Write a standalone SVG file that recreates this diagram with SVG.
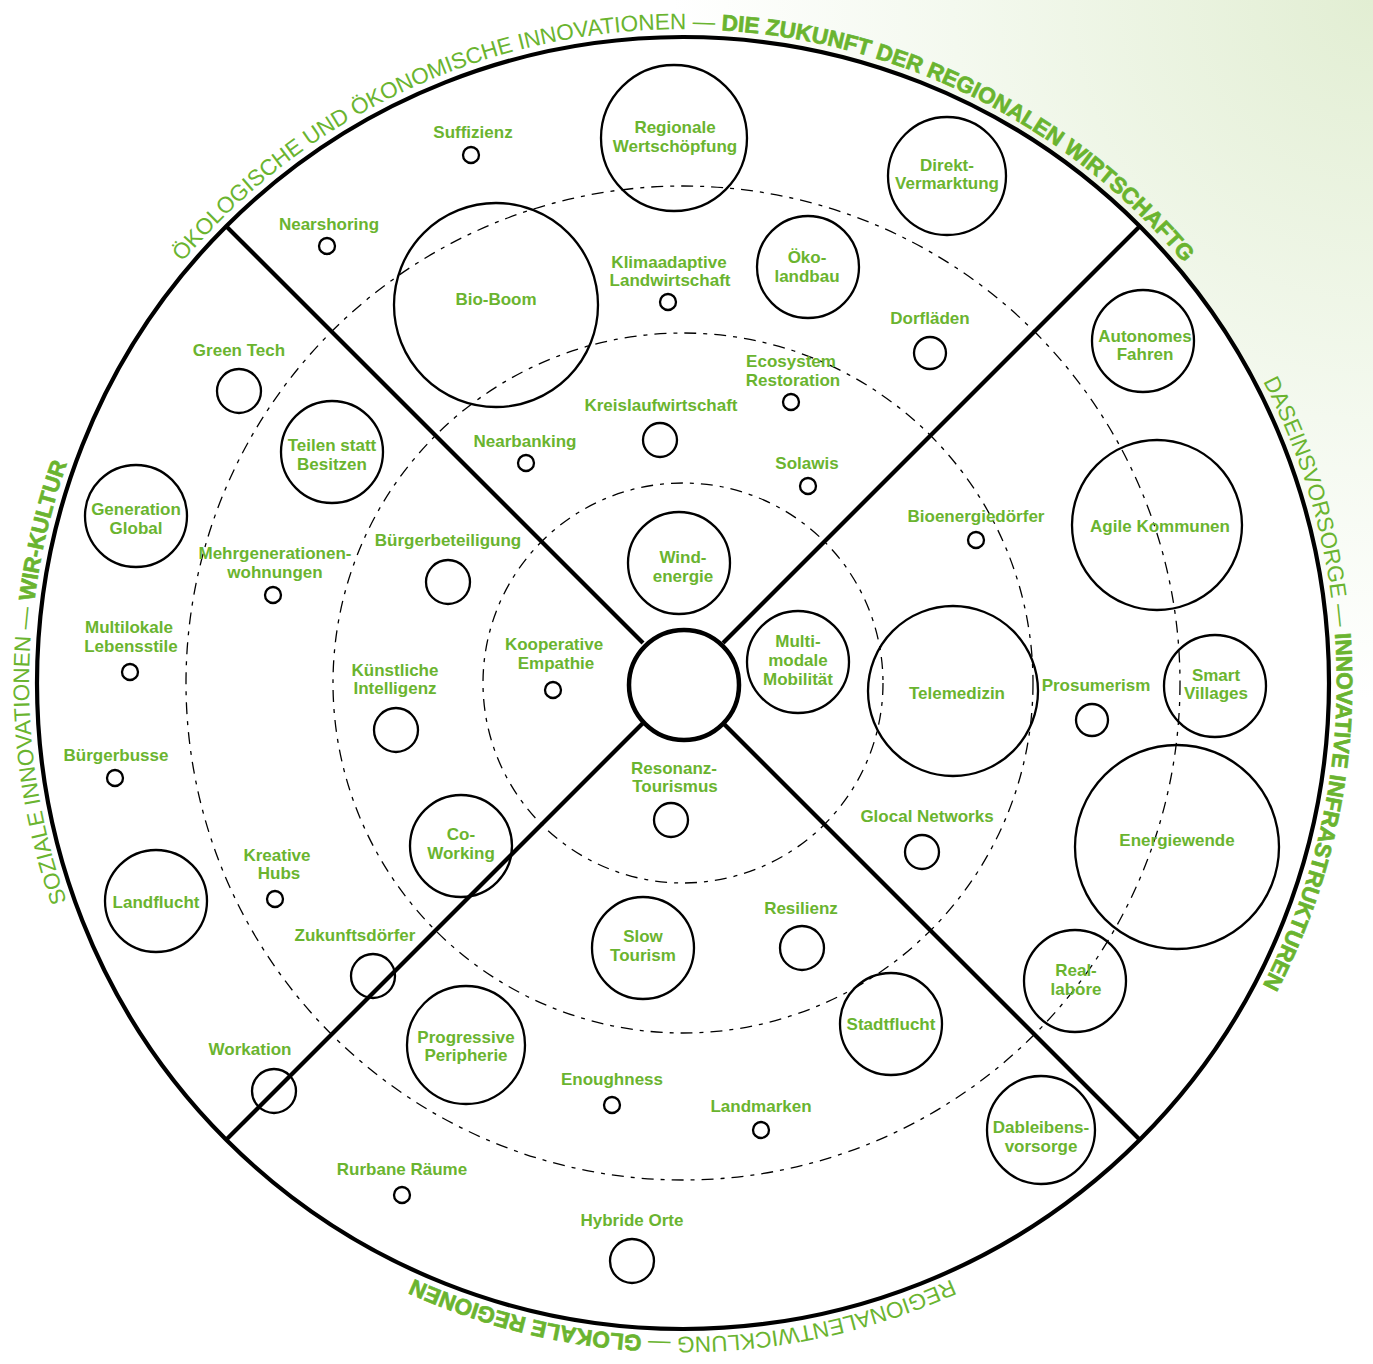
<svg xmlns="http://www.w3.org/2000/svg" xmlns:xlink="http://www.w3.org/1999/xlink" width="1373" height="1364" viewBox="0 0 1373 1364">
<defs>
<radialGradient id="bgTR" cx="1373" cy="0" r="700" gradientUnits="userSpaceOnUse">
<stop offset="0" stop-color="#e2eed3"/>
<stop offset="0.6" stop-color="#f4f9ef"/>
<stop offset="1" stop-color="#ffffff"/>
</radialGradient>
<path id="ring" d="M 1145.45 1145.45 A 654 654 0 0 1 220.55 220.55 A 654 654 0 0 1 1145.45 1145.45"/>
<style>
.lbl{font-family:"Liberation Sans",Arial,sans-serif;font-size:17px;font-weight:bold;fill:#6ab42f;text-anchor:middle}
.ttl{font-family:"Liberation Sans",Arial,sans-serif;font-size:22.5px;fill:#6ab42f;text-anchor:middle}
.b{font-weight:bold;stroke:#6ab42f;stroke-width:0.7}
.n{fill:none;stroke:#000;stroke-width:2.3}
.dash{fill:none;stroke:#000;stroke-width:1.3;stroke-dasharray:12 7 4 7}
.axis{stroke:#000;stroke-width:4.2;stroke-linecap:butt}
</style>
</defs>
<rect width="1373" height="1364" fill="url(#bgTR)"/>
<circle cx="683" cy="683" r="646" fill="#ffffff"/>

<g id="rings">
<circle class="dash" cx="683" cy="683" r="497"/>
<circle class="dash" cx="683" cy="683" r="350"/>
<circle class="dash" cx="683" cy="683" r="200"/>
<circle cx="683" cy="683" r="646" fill="none" stroke="#000" stroke-width="4.2"/>
</g>

<g id="axes">
<line class="axis" x1="226.2" y1="226.2" x2="643" y2="643"/>
<line class="axis" x1="1139.8" y1="226.2" x2="723" y2="643"/>
<line class="axis" x1="226.2" y1="1139.8" x2="643" y2="723"/>
<line class="axis" x1="1139.8" y1="1139.8" x2="723" y2="723"/>
</g>

<g id="titles">
<text class="ttl"><textPath xlink:href="#ring" href="#ring" startOffset="2568">ÖKOLOGISCHE UND ÖKONOMISCHE INNOVATIONEN — <tspan class="b">DIE ZUKUNFT DER REGIONALEN WIRTSCHAFTG</tspan></textPath></text>
<text class="ttl"><textPath xlink:href="#ring" href="#ring" startOffset="1541">SOZIALE INNOVATIONEN — <tspan class="b">WIR-KULTUR</tspan></textPath></text>
<text class="ttl"><textPath xlink:href="#ring" href="#ring" startOffset="3595">DASEINSVORSORGE — <tspan class="b">INNOVATIVE INFRASTRUKTUREN</tspan></textPath></text>
<text class="ttl"><textPath xlink:href="#ring" href="#ring" startOffset="514">REGIONALENTWICKLUNG — <tspan class="b">GLOKALE REGIONEN</tspan></textPath></text>
</g>

<g id="center"><circle cx="684" cy="685" r="55" fill="#fff" stroke="#000" stroke-width="4.5"/></g>

<g id="nodes">
<g id="n-regionale-wertschoepfung"><circle class="n" cx="674" cy="138" r="73"/><text class="lbl" x="675" y="133">Regionale<tspan x="675" y="152">Wertschöpfung</tspan></text></g>
<g id="n-direkt-vermarktung"><circle class="n" cx="947" cy="176" r="59"/><text class="lbl" x="947" y="171">Direkt-<tspan x="947" y="189">Vermarktung</tspan></text></g>
<g id="n-bio-boom"><circle class="n" cx="496" cy="305" r="102"/><text class="lbl" x="496" y="305">Bio-Boom</text></g>
<g id="n-oeko-landbau"><circle class="n" cx="808" cy="267" r="51"/><text class="lbl" x="807" y="263">Öko-<tspan x="807" y="282">landbau</tspan></text></g>
<g id="n-autonomes-fahren"><circle class="n" cx="1143" cy="341" r="51"/><text class="lbl" x="1145" y="342">Autonomes<tspan x="1145" y="360">Fahren</tspan></text></g>
<g id="n-teilen-statt-besitzen"><circle class="n" cx="332" cy="452" r="51"/><text class="lbl" x="332" y="451">Teilen statt<tspan x="332" y="470">Besitzen</tspan></text></g>
<g id="n-generation-global"><circle class="n" cx="136" cy="516" r="51"/><text class="lbl" x="136" y="515">Generation<tspan x="136" y="534">Global</tspan></text></g>
<g id="n-agile-kommunen"><circle class="n" cx="1157" cy="525" r="85"/><text class="lbl" x="1160" y="532">Agile Kommunen</text></g>
<g id="n-windenergie"><circle class="n" cx="679" cy="563" r="51"/><text class="lbl" x="683" y="563">Wind-<tspan x="683" y="582">energie</tspan></text></g>
<g id="n-multimodale-mobilitaet"><circle class="n" cx="798" cy="662" r="51"/><text class="lbl" x="798" y="647">Multi-<tspan x="798" y="666">modale</tspan><tspan x="798" y="685">Mobilität</tspan></text></g>
<g id="n-telemedizin"><circle class="n" cx="953" cy="691" r="85"/><text class="lbl" x="957" y="699">Telemedizin</text></g>
<g id="n-smart-villages"><circle class="n" cx="1215" cy="686" r="51"/><text class="lbl" x="1216" y="681">Smart<tspan x="1216" y="699">Villages</tspan></text></g>
<g id="n-energiewende"><circle class="n" cx="1177" cy="847" r="102"/><text class="lbl" x="1177" y="846">Energiewende</text></g>
<g id="n-co-working"><circle class="n" cx="461" cy="846" r="51"/><text class="lbl" x="461" y="840">Co-<tspan x="461" y="859">Working</tspan></text></g>
<g id="n-landflucht"><circle class="n" cx="156" cy="901" r="51"/><text class="lbl" x="156" y="908">Landflucht</text></g>
<g id="n-slow-tourism"><circle class="n" cx="643" cy="948" r="51"/><text class="lbl" x="643" y="942">Slow<tspan x="643" y="961">Tourism</tspan></text></g>
<g id="n-reallabore"><circle class="n" cx="1075" cy="981" r="51"/><text class="lbl" x="1076" y="976">Real-<tspan x="1076" y="995">labore</tspan></text></g>
<g id="n-stadtflucht"><circle class="n" cx="891" cy="1024" r="51"/><text class="lbl" x="891" y="1030">Stadtflucht</text></g>
<g id="n-progressive-peripherie"><circle class="n" cx="466" cy="1045" r="59"/><text class="lbl" x="466" y="1043">Progressive<tspan x="466" y="1061">Peripherie</tspan></text></g>
<g id="n-dableibensvorsorge"><circle class="n" cx="1041" cy="1130" r="54"/><text class="lbl" x="1041" y="1133">Dableibens-<tspan x="1041" y="1152">vorsorge</tspan></text></g>

<g id="n-suffizienz"><circle class="n" cx="471" cy="155" r="8"/><text class="lbl" x="473" y="138">Suffizienz</text></g>
<g id="n-nearshoring"><circle class="n" cx="327" cy="246" r="8"/><text class="lbl" x="329" y="230">Nearshoring</text></g>
<g id="n-klimaadaptive-landwirtschaft"><circle class="n" cx="668" cy="302" r="8"/><text class="lbl" x="669" y="268">Klimaadaptive<tspan x="670" y="286">Landwirtschaft</tspan></text></g>
<g id="n-dorflaeden"><circle class="n" cx="930" cy="353" r="16"/><text class="lbl" x="930" y="324">Dorfläden</text></g>
<g id="n-green-tech"><circle class="n" cx="239" cy="391" r="22"/><text class="lbl" x="239" y="356">Green Tech</text></g>
<g id="n-ecosystem-restoration"><circle class="n" cx="791" cy="402" r="8"/><text class="lbl" x="791" y="367">Ecosystem<tspan x="793" y="386">Restoration</tspan></text></g>
<g id="n-kreislaufwirtschaft"><circle class="n" cx="660" cy="440" r="17"/><text class="lbl" x="661" y="411">Kreislaufwirtschaft</text></g>
<g id="n-nearbanking"><circle class="n" cx="526" cy="463" r="8"/><text class="lbl" x="525" y="447">Nearbanking</text></g>
<g id="n-solawis"><circle class="n" cx="808" cy="486" r="8"/><text class="lbl" x="807" y="469">Solawis</text></g>
<g id="n-bioenergiedoerfer"><circle class="n" cx="976" cy="540" r="8"/><text class="lbl" x="976" y="522">Bioenergiedörfer</text></g>
<g id="n-buergerbeteiligung"><circle class="n" cx="448" cy="582" r="22"/><text class="lbl" x="448" y="546">Bürgerbeteiligung</text></g>
<g id="n-mehrgenerationenwohnungen"><circle class="n" cx="273" cy="595" r="8"/><text class="lbl" x="275" y="559">Mehrgenerationen-<tspan x="275" y="578">wohnungen</tspan></text></g>
<g id="n-multilokale-lebensstile"><circle class="n" cx="130" cy="672" r="8"/><text class="lbl" x="129" y="633">Multilokale<tspan x="131" y="652">Lebensstile</tspan></text></g>
<g id="n-kooperative-empathie"><circle class="n" cx="553" cy="690" r="8"/><text class="lbl" x="554" y="650">Kooperative<tspan x="556" y="669">Empathie</tspan></text></g>
<g id="n-kuenstliche-intelligenz"><circle class="n" cx="396" cy="730" r="22"/><text class="lbl" x="395" y="676">Künstliche<tspan x="395" y="694">Intelligenz</tspan></text></g>
<g id="n-prosumerism"><circle class="n" cx="1092" cy="720" r="16"/><text class="lbl" x="1096" y="691">Prosumerism</text></g>
<g id="n-buergerbusse"><circle class="n" cx="115" cy="778" r="8"/><text class="lbl" x="116" y="761">Bürgerbusse</text></g>
<g id="n-resonanz-tourismus"><circle class="n" cx="671" cy="820" r="17"/><text class="lbl" x="674" y="774">Resonanz-<tspan x="675" y="792">Tourismus</tspan></text></g>
<g id="n-glocal-networks"><circle class="n" cx="922" cy="852" r="17"/><text class="lbl" x="927" y="822">Glocal Networks</text></g>
<g id="n-kreative-hubs"><circle class="n" cx="275" cy="899" r="8"/><text class="lbl" x="277" y="861">Kreative<tspan x="279" y="879">Hubs</tspan></text></g>
<g id="n-resilienz"><circle class="n" cx="802" cy="948" r="22"/><text class="lbl" x="801" y="914">Resilienz</text></g>
<g id="n-zukunftsdoerfer"><circle class="n" cx="373" cy="976" r="22"/><text class="lbl" x="355" y="941">Zukunftsdörfer</text></g>
<g id="n-workation"><circle class="n" cx="274" cy="1091" r="22"/><text class="lbl" x="250" y="1055">Workation</text></g>
<g id="n-enoughness"><circle class="n" cx="612" cy="1105" r="8"/><text class="lbl" x="612" y="1085">Enoughness</text></g>
<g id="n-landmarken"><circle class="n" cx="761" cy="1130" r="8"/><text class="lbl" x="761" y="1112">Landmarken</text></g>
<g id="n-rurbane-raeume"><circle class="n" cx="402" cy="1195" r="8"/><text class="lbl" x="402" y="1175">Rurbane Räume</text></g>
<g id="n-hybride-orte"><circle class="n" cx="632" cy="1261" r="22"/><text class="lbl" x="632" y="1226">Hybride Orte</text></g>
</g>
</svg>
